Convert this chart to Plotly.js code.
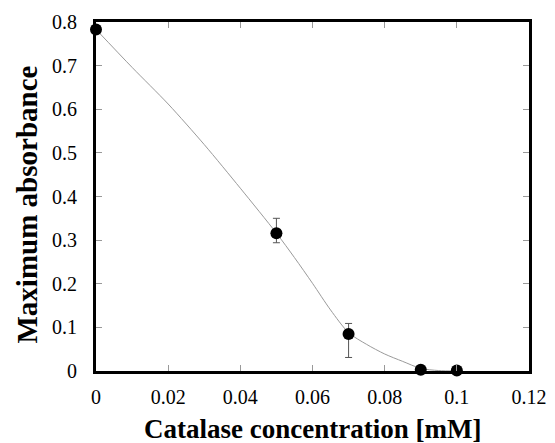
<!DOCTYPE html>
<html>
<head>
<meta charset="utf-8">
<script src="https://cdn.plot.ly/plotly-3.0.1.min.js"></script>
<style>html,body{margin:0;padding:0;background:#fff;}#chart{width:555px;height:443px;}</style>
</head>
<body>
<div id="chart"></div>
<script>
// Measured data points
var concX = [0, 0.05, 0.07, 0.09, 0.1];
var absY = [0.783, 0.316, 0.085, 0.003, 0.001];
var errPlus = [0, 0.034, 0.024, 0, 0];
var errMinus = [0, 0.022, 0.054, 0, 0];

// Smooth guide curve
var curveX = [0, 0.01, 0.02, 0.03, 0.04, 0.05, 0.055, 0.06, 0.065, 0.07, 0.075, 0.08, 0.085, 0.09, 0.095, 0.1];
var curveY = [0.783, 0.696, 0.612, 0.519, 0.419, 0.316, 0.260, 0.201, 0.140, 0.088, 0.061, 0.039, 0.022, 0.006, 0.001, 0.0];

var xTicks = [0, 0.02, 0.04, 0.06, 0.08, 0.1, 0.12];
var xTickText = ['0', '0.02', '0.04', '0.06', '0.08', '0.1', '0.12'];
var yTicks = [0, 0.1, 0.2, 0.3, 0.4, 0.5, 0.6, 0.7, 0.8];
var yTickText = ['0', '0.1', '0.2', '0.3', '0.4', '0.5', '0.6', '0.7', '0.8'];

var xTitle = 'Catalase concentration [mM]';
var yTitle = 'Maximum absorbance';

var FONT = 'Liberation Serif';

var traces = [
  {
    x: curveX, y: curveY, mode: 'lines', type: 'scatter',
    line: {color: '#9a9a9a', width: 1, shape: 'spline', smoothing: 0.8},
    hoverinfo: 'skip', showlegend: false, cliponaxis: false
  },
  {
    x: concX, y: absY, mode: 'markers', type: 'scatter',
    marker: {color: '#000', size: 12},
    error_y: {type: 'data', symmetric: false, array: errPlus, arrayminus: errMinus,
              color: '#555', thickness: 1, width: 3.5},
    showlegend: false, cliponaxis: false
  }
];

var layout = {
  width: 555, height: 443,
  margin: {l: 96, r: 26, t: 22, b: 72, pad: 0},
  paper_bgcolor: '#fff', plot_bgcolor: '#fff',
  font: {family: FONT, color: '#000', size: 19},
  xaxis: {
    range: [0, 0.12], tickvals: xTicks, ticktext: xTickText,
    showgrid: false, zeroline: false,
    showline: true, linecolor: '#000', linewidth: 3, mirror: 'allticks',
    ticks: 'inside', ticklen: 6, tickwidth: 1, tickcolor: '#999',
    ticklabelstandoff: 6,
    tickfont: {family: FONT, size: 20, color: '#000'},
    automargin: false
  },
  yaxis: {
    range: [0, 0.8], tickvals: yTicks, ticktext: yTickText,
    showgrid: false, zeroline: false,
    showline: true, linecolor: '#000', linewidth: 3, mirror: 'allticks',
    ticks: 'inside', ticklen: 6, tickwidth: 1, tickcolor: '#999',
    ticklabelstandoff: 12,
    tickfont: {family: FONT, size: 20, color: '#000'},
    automargin: false
  },
  annotations: [
    {text: '<b>' + xTitle + '</b>', xref: 'paper', yref: 'paper', x: 0.5, y: 0,
     xanchor: 'center', yanchor: 'middle', yshift: -58, showarrow: false,
     font: {family: FONT, size: 27, color: '#000'}},
    {text: '<b>' + yTitle + '</b>', xref: 'paper', yref: 'paper', x: 0, y: 0.5,
     xanchor: 'center', yanchor: 'middle', xshift: -70, yshift: -8, textangle: -90, showarrow: false,
     font: {family: FONT, size: 29, color: '#000'}}
  ]
};

Plotly.newPlot('chart', traces, layout, {displayModeBar: false, staticPlot: true});
</script>
</body>
</html>
